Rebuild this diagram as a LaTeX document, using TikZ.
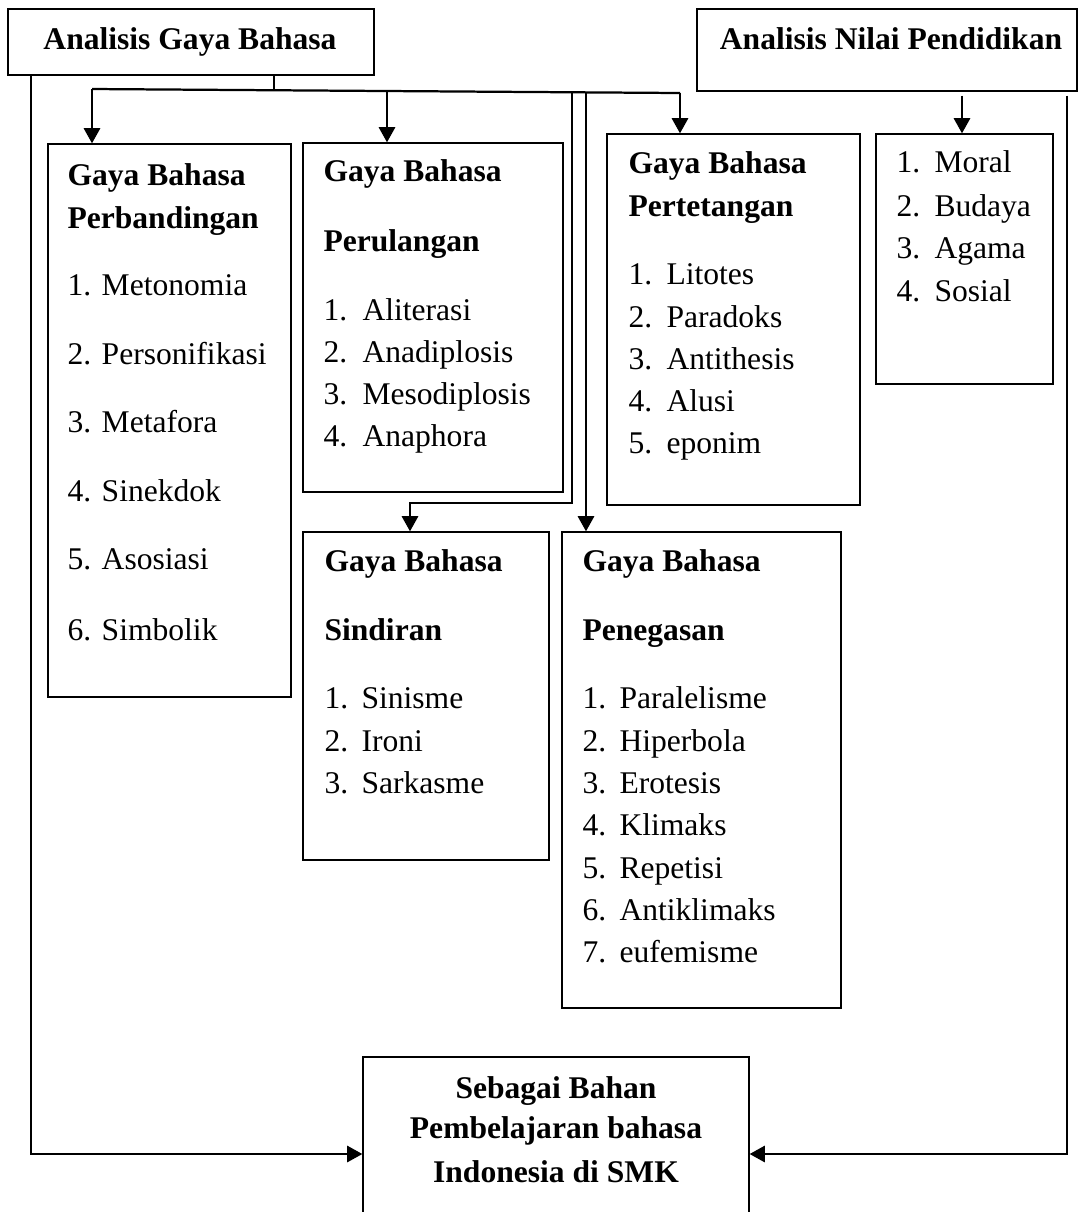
\documentclass[tikz,border=0pt]{standalone}
\usepackage{fontspec}
\setmainfont{Liberation Serif}
\usetikzlibrary{arrows.meta,fit}
\begin{document}
\begin{tikzpicture}[x=0.38pt,y=-0.38pt,
  box/.style={draw,line width=0.5pt,inner sep=0pt},
  conn/.style={line width=0.85pt},
  arr/.style={conn,-{Triangle[length=5.8pt,width=6.2pt]}},
  txt/.style={anchor=base west,inner sep=0pt,font=\fontsize{12}{14}\selectfont},
  hd/.style={anchor=base west,inner sep=0pt,font=\fontsize{12}{14}\selectfont\bfseries},
  hdc/.style={anchor=base,inner sep=0pt,font=\fontsize{12}{14}\selectfont\bfseries},
]
\clip (0,0) rectangle (1079,1212);
% boxes
\node[box,fit={(8,9)(374,75)}] (ga) {};
\node[box,fit={(697,9)(1077,91)}] (np) {};
\node[box,fit={(48,144)(291,697)}] (b1) {};
\node[box,fit={(303,143)(563,492)}] (b2) {};
\node[box,fit={(607,134)(860,505)}] (b3) {};
\node[box,fit={(876,134)(1053,384)}] (b4) {};
\node[box,fit={(303,532)(549,860)}] (b5) {};
\node[box,fit={(562,532)(841,1008)}] (b6) {};
\node[box,fit={(363,1057)(749,1260)}] (sb) {};
% titles
\node[hdc] (tga) at (190,49) {Analisis Gaya Bahasa};
\node[hdc] (tnp) at (891,49) {Analisis Nilai Pendidikan};
% box 1
\node[hd] (h1a) at (67,185) {Gaya Bahasa};
\node[hd] (h1b) at (67,228) {Perbandingan};
\node[txt] (i11) at (67,295) {1. Metonomia};
\node[txt] (i12) at (67,364) {2. Personifikasi};
\node[txt] (i13) at (67,432) {3. Metafora};
\node[txt] (i14) at (67,501) {4. Sinekdok};
\node[txt] (i15) at (67,569) {5. Asosiasi};
\node[txt] (i16) at (67,640) {6. Simbolik};
% box 2
\node[hd] (h2a) at (323,181) {Gaya Bahasa};
\node[hd] (h2b) at (323,251) {Perulangan};
\node[txt] (n21) at (323,320) {1.}; \node[txt] (i21) at (362,320) {Aliterasi};
\node[txt] (n22) at (323,362) {2.}; \node[txt] (i22) at (362,362) {Anadiplosis};
\node[txt] (n23) at (323,404) {3.}; \node[txt] (i23) at (362,404) {Mesodiplosis};
\node[txt] (n24) at (323,446) {4.}; \node[txt] (i24) at (362,446) {Anaphora};
% box 3
\node[hd] (h3a) at (628,173) {Gaya Bahasa};
\node[hd] (h3b) at (628,216) {Pertetangan};
\node[txt] (n31) at (628,284) {1.}; \node[txt] (i31) at (666,284) {Litotes};
\node[txt] (n32) at (628,327) {2.}; \node[txt] (i32) at (666,327) {Paradoks};
\node[txt] (n33) at (628,369) {3.}; \node[txt] (i33) at (666,369) {Antithesis};
\node[txt] (n34) at (628,411) {4.}; \node[txt] (i34) at (666,411) {Alusi};
\node[txt] (n35) at (628,453) {5.}; \node[txt] (i35) at (666,453) {eponim};
% box 4
\node[txt] (n41) at (896,172) {1.}; \node[txt] (i41) at (934,172) {Moral};
\node[txt] (n42) at (896,216) {2.}; \node[txt] (i42) at (934,216) {Budaya};
\node[txt] (n43) at (896,258) {3.}; \node[txt] (i43) at (934,258) {Agama};
\node[txt] (n44) at (896,301) {4.}; \node[txt] (i44) at (934,301) {Sosial};
% box 5
\node[hd] (h5a) at (324,571) {Gaya Bahasa};
\node[hd] (h5b) at (324,640) {Sindiran};
\node[txt] (n51) at (324,708) {1.}; \node[txt] (i51) at (361,708) {Sinisme};
\node[txt] (n52) at (324,751) {2.}; \node[txt] (i52) at (361,751) {Ironi};
\node[txt] (n53) at (324,793) {3.}; \node[txt] (i53) at (361,793) {Sarkasme};
% box 6
\node[hd] (h6a) at (582,571) {Gaya Bahasa};
\node[hd] (h6b) at (582,640) {Penegasan};
\node[txt] (n61) at (582,708) {1.}; \node[txt] (i61) at (619,708) {Paralelisme};
\node[txt] (n62) at (582,751) {2.}; \node[txt] (i62) at (619,751) {Hiperbola};
\node[txt] (n63) at (582,793) {3.}; \node[txt] (i63) at (619,793) {Erotesis};
\node[txt] (n64) at (582,835) {4.}; \node[txt] (i64) at (619,835) {Klimaks};
\node[txt] (n65) at (582,878) {5.}; \node[txt] (i65) at (619,878) {Repetisi};
\node[txt] (n66) at (582,920) {6.}; \node[txt] (i66) at (619,920) {Antiklimaks};
\node[txt] (n67) at (582,962) {7.}; \node[txt] (i67) at (619,962) {eufemisme};
% bottom box
\node[hdc] (s1) at (556,1098) {Sebagai Bahan};
\node[hdc] (s2) at (556,1138) {Pembelajaran bahasa};
\node[hdc] (s3) at (556,1182) {Indonesia di SMK};
% connectors
\coordinate (bl) at (92,89);
\coordinate (br) at (680,93);
\coordinate (st) at (274,90);
\coordinate (a2) at (387,91.3);
\coordinate (v1) at (572,92.3);
\coordinate (v1b) at (572,503);
\coordinate (v1c) at (410,503);
\coordinate (v2) at (586,92.4);
\coordinate (a4) at (962,0);
\coordinate (lb) at (31,1154);
\coordinate (rb) at (1067,1154);
\draw[conn] (ga.south -| st) -- (st);
\draw[conn] (bl) -- (br);
\draw[arr] (bl) -- (bl |- b1.north);
\draw[arr] (a2) -- (a2 |- b2.north);
\draw[arr] (br) -- (br |- b3.north);
\draw[arr] (v1) -- (v1b) -- (v1c) -- (v1c |- b5.north);
\draw[arr] (v2) -- (v2 |- b6.north);
\draw[arr] ([yshift=-1.5pt]np.south -| a4) -- (a4 |- b4.north);
\draw[arr] (ga.south -| lb) -- (lb) -- (lb -| sb.west);
\draw[arr] ([yshift=-1.5pt]np.south -| rb) -- (rb) -- (rb -| sb.east);
\end{tikzpicture}
\end{document}
